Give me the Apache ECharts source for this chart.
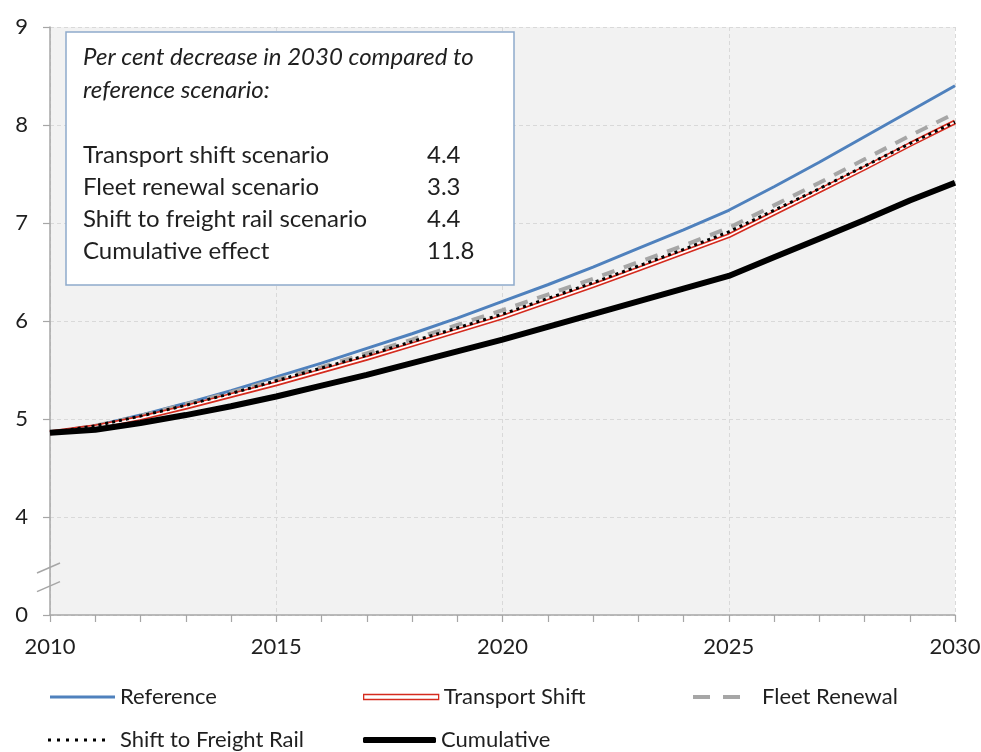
<!DOCTYPE html>
<html>
<head>
<meta charset="utf-8">
<script src="https://cdn.jsdelivr.net/npm/echarts@6/dist/echarts.min.js"></script>
<style>
  html, body { margin: 0; padding: 0; background: #ffffff; }
  #chart { width: 981px; height: 752px; }
</style>
</head>
<body>
<div id="chart"></div>
<script>
// Years on the horizontal axis
const years = ['2010','2011','2012','2013','2014','2015','2016','2017','2018','2019','2020',
               '2021','2022','2023','2024','2025','2026','2027','2028','2029','2030'];

// Scenario series
const reference      = [4.86,4.93,5.04,5.16,5.29,5.43,5.57,5.72,5.87,6.03,6.20,6.37,6.55,6.74,6.93,7.13,7.37,7.62,7.88,8.14,8.40];
const transportShift = [4.86,4.92,5.01,5.12,5.24,5.36,5.49,5.62,5.76,5.90,6.04,6.20,6.36,6.53,6.70,6.87,7.10,7.33,7.56,7.80,8.03];
const fleetRenewal   = [4.86,4.93,5.03,5.15,5.27,5.40,5.53,5.67,5.81,5.96,6.11,6.27,6.43,6.60,6.77,6.95,7.18,7.41,7.65,7.89,8.12];
const freightRail    = [4.86,4.93,5.03,5.14,5.26,5.39,5.52,5.65,5.79,5.93,6.07,6.23,6.39,6.56,6.73,6.91,7.13,7.35,7.58,7.81,8.03];
const cumulative     = [4.86,4.89,4.96,5.04,5.13,5.23,5.34,5.45,5.57,5.69,5.81,5.94,6.07,6.20,6.33,6.46,6.65,6.84,7.03,7.23,7.41];

// Summary box text
const noteTitle  = ['Per cent decrease in 2030 compared to', 'reference scenario:'];
const noteLabels = ['Transport shift scenario', 'Fleet renewal scenario', 'Shift to freight rail scenario', 'Cumulative effect'];
const noteValues = ['4.4', '3.3', '4.4', '11.8'];

// Vertical axis: the lowest tick stands for zero (broken axis)
const yMin = 3, yMax = 9;
const yZeroLabel = '0';
const breakMarks = [3.48, 3.29];

const FONT = 'Lato, "Open Sans", sans-serif';
const TEXT = '#1f1f1f';
const AXIS = '#a6a6a6';
const GRIDLINE = '#d9d9d9';

const chart = echarts.init(document.getElementById('chart'), null, { renderer: 'canvas' });

const noteGraphics = [];
noteGraphics.push({
  id: 'noteBox', type: 'rect', z: 50,
  shape: { x: 66, y: 32, width: 448, height: 253 },
  style: { fill: '#ffffff', stroke: '#8eaacb', lineWidth: 1.5 }
});
noteTitle.forEach((t, i) => {
  noteGraphics.push({
    id: 'noteTitle' + i, type: 'text', z: 51, x: 83, y: 57 + i * 33,
    style: { text: t, fill: TEXT, font: 'italic 24px ' + FONT, textVerticalAlign: 'middle' }
  });
});
noteLabels.forEach((t, i) => {
  noteGraphics.push({
    id: 'noteLabel' + i, type: 'text', z: 51, x: 83, y: 155 + i * 32,
    style: { text: t, fill: TEXT, font: '24px ' + FONT, textVerticalAlign: 'middle' }
  });
  noteGraphics.push({
    id: 'noteValue' + i, type: 'text', z: 51, x: 427, y: 155 + i * 32,
    style: { text: noteValues[i], fill: TEXT, font: '24px ' + FONT, textVerticalAlign: 'middle' }
  });
});

const legendText = { color: TEXT, fontSize: 22, fontFamily: FONT, lineHeight: 22 };
const legendBase = { selectedMode: false, padding: 0 };

const option = {
  animation: false,
  backgroundColor: '#ffffff',
  grid: {
    left: 50, right: 26, top: 27, bottom: 137,
    outerBoundsMode: 'none', containLabel: false,
    show: true, backgroundColor: '#f2f2f2', borderWidth: 0
  },
  legend: [
    Object.assign({ data: ['Reference'], left: 50, top: 686,
      icon: 'rect', itemWidth: 65, itemHeight: 3, itemStyle: { color: '#4f81bd' }, textStyle: legendText }, legendBase),
    Object.assign({ data: ['Transport Shift'], left: 363, top: 686,
      icon: 'rect', itemWidth: 75, itemHeight: 5,
      itemStyle: { color: '#ffffff', borderColor: '#d52b1e', borderWidth: 1.3 }, textStyle: legendText }, legendBase),
    Object.assign({ data: ['Fleet Renewal'], left: 693, top: 686,
      icon: 'path://M0,0h17v4h-17z M30,0h17v4h-17z', itemWidth: 47, itemHeight: 4,
      itemStyle: { color: '#a6a6a6' }, textStyle: Object.assign({ padding: [0, 0, 0, 17] }, legendText) }, legendBase),
    Object.assign({ data: ['Shift to Freight Rail'], left: 48, top: 729,
      icon: 'path://M0,0h3v3h-3z M9,0h3v3h-3z M18,0h3v3h-3z M27,0h3v3h-3z M36,0h3v3h-3z M45,0h3v3h-3z M54,0h3v3h-3z',
      itemWidth: 57, itemHeight: 3, itemStyle: { color: '#000000' },
      textStyle: Object.assign({ padding: [0, 0, 0, 10] }, legendText) }, legendBase),
    Object.assign({ data: ['Cumulative'], left: 363, top: 729,
      icon: 'roundRect', itemWidth: 73, itemHeight: 6, itemStyle: { color: '#000000' }, textStyle: legendText }, legendBase)
  ],
  xAxis: {
    type: 'category', data: years, boundaryGap: false,
    axisLine: { lineStyle: { color: AXIS, width: 1.5 } },
    axisTick: { show: true, interval: 0, length: 7, inside: false, lineStyle: { color: AXIS, width: 1.2 } },
    axisLabel: { interval: 4, color: TEXT, fontSize: 22, fontFamily: FONT, margin: 21 },
    splitLine: { show: true, interval: 4, lineStyle: { color: GRIDLINE, type: [4, 3], width: 1 } }
  },
  yAxis: {
    type: 'value', min: yMin, max: yMax, interval: 1,
    axisLine: { show: true, lineStyle: { color: AXIS, width: 1.5 } },
    axisTick: { show: true, length: 7, lineStyle: { color: AXIS, width: 1.2 } },
    axisLabel: { color: TEXT, fontSize: 22, fontFamily: FONT, margin: 22,
      formatter: v => (v === yMin ? yZeroLabel : String(v)) },
    splitLine: { show: true, lineStyle: { color: GRIDLINE, type: [4, 3], width: 1 } }
  },
  series: [
    { name: 'Reference', type: 'line', data: reference, symbol: 'none', z: 3,
      lineStyle: { color: '#4f81bd', width: 3 }, itemStyle: { color: '#4f81bd' } },
    { name: 'Fleet Renewal', type: 'line', data: fleetRenewal, symbol: 'none', z: 3,
      lineStyle: { color: '#a6a6a6', width: 4, type: [13, 10] }, itemStyle: { color: '#a6a6a6' } },
    { name: 'Transport Shift', type: 'line', data: transportShift, symbol: 'none', z: 4,
      lineStyle: { color: '#d52b1e', width: 5 }, itemStyle: { color: '#d52b1e' } },
    { name: 'Transport Shift core', type: 'line', data: transportShift, symbol: 'none', z: 4,
      lineStyle: { color: '#ffffff', width: 1.8 }, itemStyle: { color: '#ffffff' } },
    { name: 'Shift to Freight Rail', type: 'line', data: freightRail, symbol: 'none', z: 5,
      lineStyle: { color: '#000000', width: 3, type: [3, 4] }, itemStyle: { color: '#000000' } },
    { name: 'Cumulative', type: 'line', data: cumulative, symbol: 'none', z: 6,
      lineStyle: { color: '#000000', width: 6 }, itemStyle: { color: '#000000' } }
  ],
  graphic: noteGraphics
};

chart.setOption(option);

// Axis-break slashes on the vertical axis
const axisX = chart.convertToPixel({ xAxisIndex: 0 }, years[0]);
const breakGraphics = breakMarks.map((v, i) => {
  const y = chart.convertToPixel({ yAxisIndex: 0 }, v);
  return {
    id: 'axisBreak' + i, type: 'line', z: 60,
    shape: { x1: axisX - 13, y1: y + 5, x2: axisX + 10, y2: y - 5 },
    style: { stroke: AXIS, lineWidth: 1.5 }
  };
});
chart.setOption({ graphic: breakGraphics });
</script>
</body>
</html>
